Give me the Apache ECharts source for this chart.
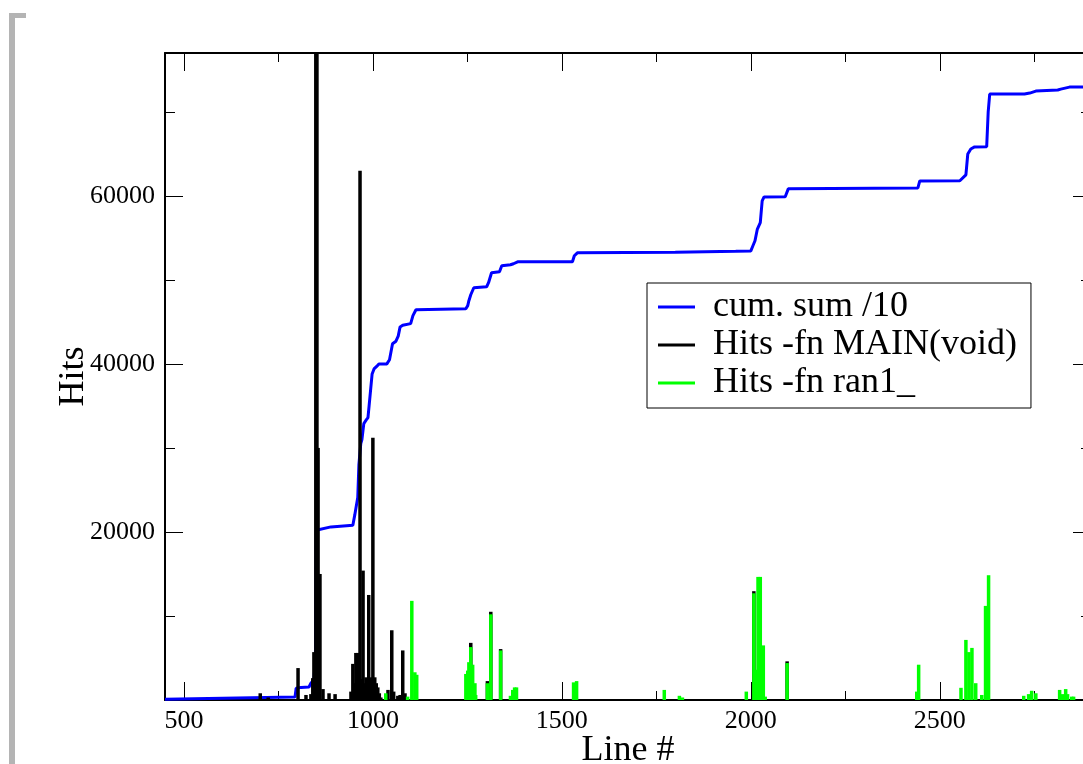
<!DOCTYPE html>
<html>
<head>
<meta charset="utf-8">
<script src="https://cdn.jsdelivr.net/npm/echarts@6/dist/echarts.min.js"></script>
<style>
html,body{margin:0;padding:0;background:#fff;}
#chart{width:1083px;height:764px;}
</style>
</head>
<body>
<div id="chart"></div>
<script>
// ---- data ----
const xMajorTicks = [500, 1000, 1500, 2000, 2500];
const xMinorTicks = [750, 1250, 1750, 2250, 2750];
const yMajorTicks = [20000, 40000, 60000];
const yMinorTicks = [10000, 30000, 50000, 70000];

const cumSum = [
  [450,100],[794,350],[797,1400],[810,1500],[831,1550],[836,2000],[844,2400],[848,5000],[850,20200],
  [855,20300],[889,20600],[947,20800],[952,22000],[960,24100],[963,28000],[968,30500],[971,31000],
  [976,32900],[982,33300],[987,33600],[990,35000],[993,35200],[998,38800],[1003,39400],[1010,39700],
  [1016,40000],[1037,40000],[1044,40500],[1048,40600],[1052,42400],[1061,42700],[1067,43300],
  [1072,44400],[1079,44600],[1100,44790],[1106,45740],[1114,46450],[1119,46570],[1246,46570],
  [1251,46930],[1254,47520],[1259,48230],[1267,49060],[1301,49180],[1306,49660],[1314,50850],
  [1335,50960],[1341,51680],[1364,51800],[1372,51920],[1383,52150],[1528,52150],[1533,52870],
  [1541,53220],[1800,53300],[1960,53400],[2000,53450],[2005,54000],[2011,54650],[2017,56000],
  [2025,56800],[2030,59400],[2035,59875],[2091,59900],[2099,60830],[2442,60940],[2447,61780],
  [2553,61800],[2558,62010],[2569,62500],[2574,64980],[2582,65580],[2592,65820],[2624,65850],
  [2628,70000],[2632,72110],[2724,72110],[2738,72230],[2754,72470],[2812,72590],[2820,72700],
  [2843,72940],[2900,72950]
];

const mainHits = [
  [702,800],[723,300],[802,3800],[823,600],[836,700],[841,2600],[844,5700],[849,95000],[852,95000],
  [855,30000],[860,15000],[868,1300],[884,800],[900,700],[942,1000],[947,4300],[952,2000],[955,5600],
  [960,5600],[963,2500],[966,63000],[971,2500],[974,15400],[978,2000],[982,2700],[985,2000],
  [987,2000],[989,12500],[992,2500],[995,2700],[1000,31200],[1005,2700],[1009,2000],[1013,1500],
  [1017,800],[1021,300],[1040,1200],[1050,8300],[1055,1000],[1066,500],[1072,600],[1079,5900],[1085,800],
  [1259,6800],[1303,2250],[1312,10500],[1338,6060],[2008,12950],[2096,4600]
];

const ran1Hits = [
  [1034,800],[1092,400],[1103,11800],[1111,3300],[1116,3000],
  [1246,3100],[1251,3500],[1254,4500],[1259,6300],[1264,4200],[1270,2000],[1272,600],
  [1303,2000],[1312,10200],[1338,5900],[1364,500],[1370,1200],[1375,1500],[1380,1500],
  [1531,2100],[1539,2250],[1771,1200],[1811,500],[1819,300],
  [1988,1000],[2008,12700],[2014,3600],[2019,14650],[2025,14650],[2033,6500],[2038,400],[2096,4400],
  [2439,1000],[2444,4200],[2556,1450],[2569,7150],[2577,5700],[2585,6200],[2595,2000],[2611,600],
  [2621,11200],[2629,14850],[2722,500],[2735,700],[2743,1100],[2754,800],
  [2817,1200],[2825,700],[2833,1300],[2838,700],[2849,400],[2854,400]
];

// ---- chart ----
const FONT = 'Liberation Serif';
const X_MIN = 450, X_MAX = 2900, Y_MIN = 0, Y_MAX = 77000;
const plain = v => String(v);

function xAx(position, ticks, len, showLine, showLabel, extra) {
  return Object.assign({
    type: 'value', position: position, min: X_MIN, max: X_MAX,
    axisLine: {show: showLine, onZero: false, lineStyle: {color: '#000', width: 2}},
    axisTick: {show: true, inside: true, length: len, customValues: ticks, lineStyle: {color: '#000', width: 1}},
    axisLabel: {show: showLabel, customValues: ticks, formatter: plain, margin: 8, fontSize: 26, fontFamily: FONT, color: '#000'},
    splitLine: {show: false}, minorTick: {show: false}
  }, extra || {});
}
function yAx(position, ticks, len, showLine, showLabel, extra) {
  return Object.assign({
    type: 'value', position: position, min: Y_MIN, max: Y_MAX,
    axisLine: {show: showLine, onZero: false, lineStyle: {color: '#000', width: 2}},
    axisTick: {show: true, inside: true, length: len, customValues: ticks, lineStyle: {color: '#000', width: 1}},
    axisLabel: {show: showLabel, customValues: ticks, formatter: plain, margin: 10, fontSize: 26, fontFamily: FONT, color: '#000'},
    splitLine: {show: false}, minorTick: {show: false}
  }, extra || {});
}

const chart = echarts.init(document.getElementById('chart'), null, {renderer: 'canvas'});
chart.setOption({
  animation: false,
  backgroundColor: '#fff',
  grid: {left: 165, top: 53, width: 926, height: 647, containLabel: false, outerBoundsMode: 'none'},
  graphic: [
    {type: 'rect', shape: {x: 9, y: 13, width: 6, height: 760}, style: {fill: '#b4b4b4'}},
    {type: 'rect', shape: {x: 9, y: 13, width: 17, height: 5}, style: {fill: '#b4b4b4'}}
  ],
  legend: {
    orient: 'vertical', left: 647, top: 283,
    padding: [6, 14, 7, 11], itemGap: 2,
    itemWidth: 37, itemHeight: 3, icon: 'rect',
    borderColor: '#000', borderWidth: 1,
    textStyle: {fontSize: 36, fontFamily: FONT, color: '#000', padding: [0, 0, 0, 13]},
    data: ['cum. sum /10', 'Hits -fn MAIN(void)', 'Hits -fn ran1_']
  },
  xAxis: [
    xAx('bottom', xMajorTicks, 18, true, true, {
      name: 'Line #', nameLocation: 'middle', nameGap: 33, nameMoveOverlap: false,
      nameTextStyle: {fontSize: 36, fontFamily: FONT, color: '#000'}
    }),
    xAx('bottom', xMinorTicks, 9, false, false),
    xAx('top', xMajorTicks, 18, true, false),
    xAx('top', xMinorTicks, 9, false, false)
  ],
  yAxis: [
    yAx('left', yMajorTicks, 18, true, true, {
      name: 'Hits', nameLocation: 'middle', nameGap: 73, nameRotate: 90, nameMoveOverlap: false,
      nameTextStyle: {fontSize: 36, fontFamily: FONT, color: '#000'}
    }),
    yAx('left', yMinorTicks, 10, false, false),
    yAx('right', yMajorTicks, 18, true, false),
    yAx('right', yMinorTicks, 10, false, false)
  ],
  series: [
    {
      name: 'cum. sum /10', type: 'line', xAxisIndex: 0, yAxisIndex: 0, z: 2,
      showSymbol: false, symbol: 'none', color: '#0000ff',
      lineStyle: {color: '#0000ff', width: 3},
      data: cumSum
    },
    {
      name: 'Hits -fn MAIN(void)', type: 'bar', xAxisIndex: 0, yAxisIndex: 0, z: 3,
      barWidth: 3.5, barGap: '-100%', clip: true, color: '#000000',
      itemStyle: {color: '#000000'},
      data: mainHits
    },
    {
      name: 'Hits -fn ran1_', type: 'bar', xAxisIndex: 0, yAxisIndex: 0, z: 4,
      barWidth: 3.5, barGap: '-100%', clip: true, color: '#00ff00',
      itemStyle: {color: '#00ff00'},
      data: ran1Hits
    }
  ]
});
</script>
</body>
</html>
